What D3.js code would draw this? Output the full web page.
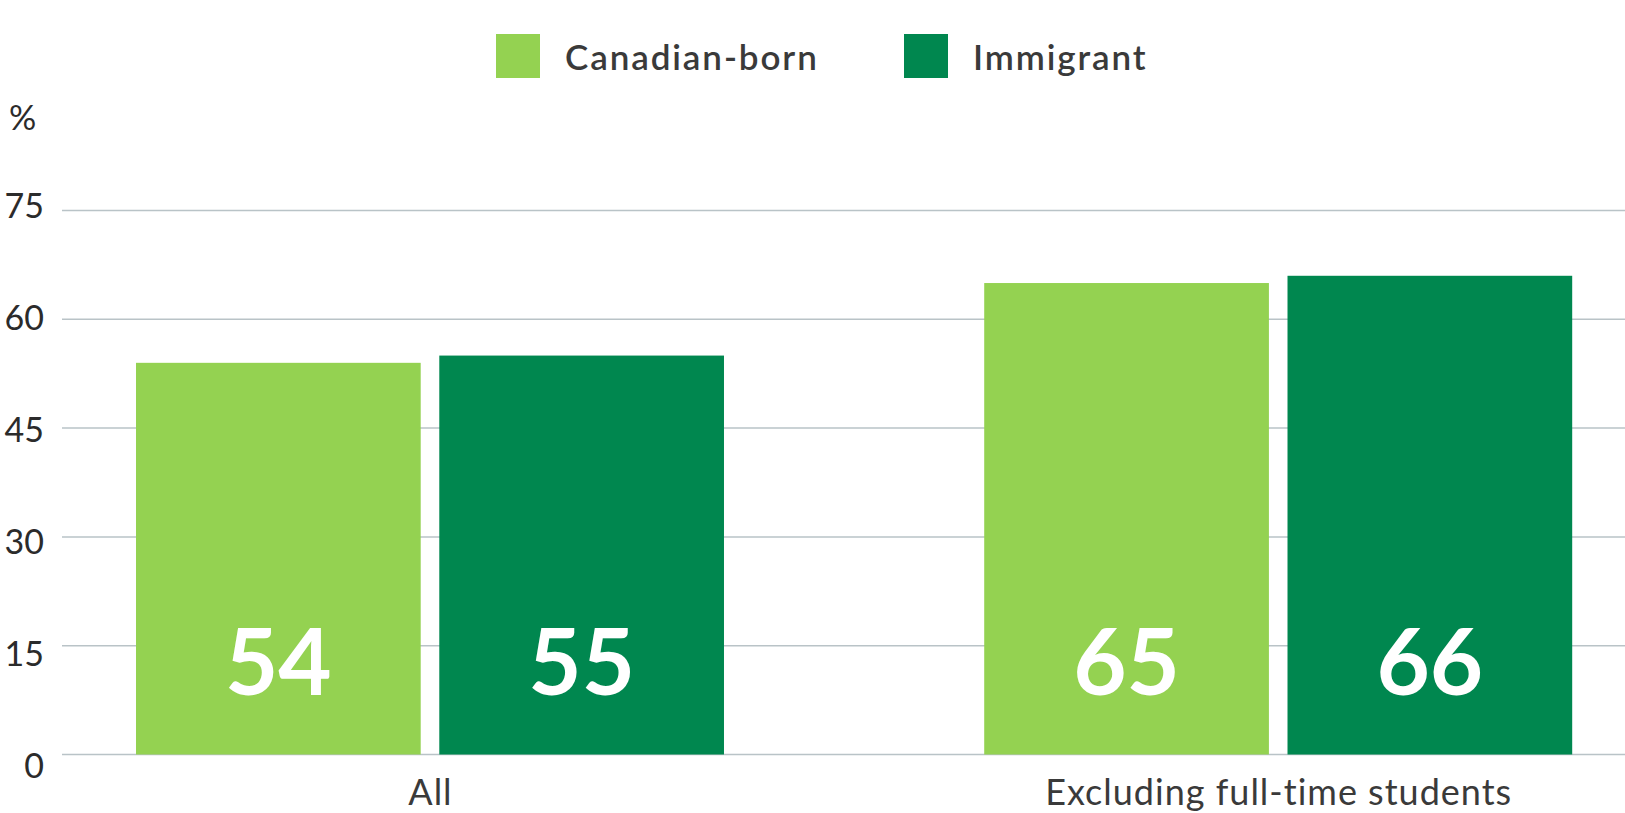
<!DOCTYPE html>
<html>
<head>
<meta charset="utf-8">
<script src="https://cdn.jsdelivr.net/npm/d3@7"></script>
<style>
  html, body { margin: 0; padding: 0; background: #fff; }
  svg { display: block; font-family: Lato, "Open Sans", sans-serif; }
</style>
</head>
<body>
<svg id="chart" width="1625" height="813"></svg>
<script>
const categories = ["All", "Excluding full-time students"];
const seriesNames = ["Canadian-born", "Immigrant"];
const canadianBorn = [54, 65];
const immigrant = [55, 66];
const yTicks = [0, 15, 30, 45, 60, 75];
const yUnit = "%";
const colors = ["#94d251", "#00874f"];

const seriesValues = [canadianBorn, immigrant];
const rows = categories.map((c, i) => ({
  category: c,
  values: seriesNames.map((s, j) => ({ series: s, value: seriesValues[j][i] }))
}));

const svg = d3.select("#chart");
const W = 1625;

const y = d3.scaleLinear().domain([0, 75]).range([754.5, 210.5]);
const yLabel = d3.scaleLinear().domain([0, 75]).range([765.5, 206]);
const x0 = d3.scaleBand().domain(categories).range([136, 1572.2]).paddingInner(0.3068).paddingOuter(0);
const x1 = d3.scaleBand().domain(seriesNames).range([0, x0.bandwidth()]).paddingInner(0.0613).paddingOuter(0);
const color = d3.scaleOrdinal().domain(seriesNames).range(colors);

// gridlines
svg.append("g").selectAll("line").data(yTicks).join("line")
  .attr("x1", 62).attr("x2", W)
  .attr("y1", d => y(d)).attr("y2", d => y(d))
  .attr("stroke", "#b9c3c7").attr("stroke-width", 1.5);

// y tick labels
svg.append("g").selectAll("text").data(yTicks).join("text")
  .attr("x", 44).attr("y", d => yLabel(d)).attr("dy", "0.36em")
  .attr("text-anchor", "end")
  .attr("font-size", 34).attr("fill", "#2b2b2b")
  .text(d => d);

svg.append("text").attr("x", 9).attr("y", 118).attr("dy", "0.36em")
  .attr("font-size", 34).attr("fill", "#2b2b2b").text(yUnit);

// bars
const groups = svg.append("g").selectAll("g").data(rows).join("g")
  .attr("transform", d => `translate(${x0(d.category)},0)`);

groups.selectAll("rect").data(d => d.values).join("rect")
  .attr("x", d => x1(d.series))
  .attr("y", d => y(d.value))
  .attr("width", x1.bandwidth())
  .attr("height", d => y(0) - y(d.value))
  .attr("fill", d => color(d.series));

groups.selectAll("text").data(d => d.values).join("text")
  .attr("x", d => x1(d.series) + x1.bandwidth() / 2)
  .attr("y", y(0) - 60)
  .attr("text-anchor", "middle")
  .attr("font-size", 92).attr("font-weight", 700).attr("fill", "#ffffff")
  .text(d => d.value);

// category labels
svg.append("g").selectAll("text").data(categories).join("text")
  .attr("x", d => x0(d) + x0.bandwidth() / 2 + 0.5)
  .attr("y", 805)
  .attr("text-anchor", "middle")
  .attr("font-size", 36).attr("letter-spacing", 1).attr("fill", "#3a3a3a")
  .text(d => d);

// legend
const legendX = [496, 904];
const leg = svg.append("g").selectAll("g").data(seriesNames).join("g")
  .attr("transform", (d, i) => `translate(${legendX[i]},34)`);
leg.append("rect").attr("width", 44).attr("height", 44).attr("fill", d => color(d));
leg.append("text").attr("x", 69).attr("y", 35.5)
  .attr("font-size", 35).attr("font-weight", 600).attr("letter-spacing", 1.9).attr("fill", "#3a3a3a")
  .text(d => d);
</script>
</body>
</html>
